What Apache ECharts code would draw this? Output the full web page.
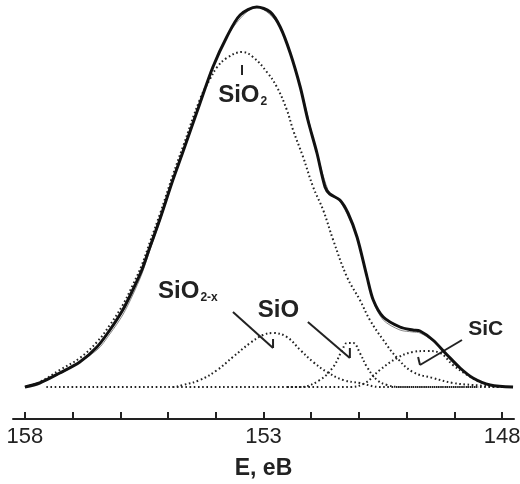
<!DOCTYPE html>
<html>
<head>
<meta charset="utf-8">
<script src="https://cdn.jsdelivr.net/npm/echarts@6/dist/echarts.min.js"></script>
<style>html,body{margin:0;padding:0;background:#fff;}#c{width:520px;height:484px;}</style>
</head>
<body>
<div id="c" style="width:520px;height:484px;"></div>
<script>
// Binding energy (eV) and intensity (a.u.)
const totalE = [158.00,157.69,157.27,156.85,156.49,156.22,155.95,155.74,155.55,155.38,155.17,154.90,154.69,154.33,154.06,153.77,153.49,153.14,152.86,152.65,152.44,152.23,152.07,151.88,151.71,151.61,151.40,151.23,151.04,150.83,150.70,150.49,150.14,149.87,149.72,149.45,149.15,148.88,148.61,148.25,147.77];
const totalI = [0,4,14,25,40,57,77,97,117,140,168,207,235,284,320,350,372,380,375,360,334,300,267,234,200,193,187,174,150,110,87,70,60,57,56,47,32,19,9,2,0];

const fitE = [158.00,157.27,156.49,156.22,155.95,155.74,155.55,155.38,155.17,154.90,154.33,153.77,153.14,152.65,152.23,151.88,151.61,151.40,151.04,150.70,150.49,150.14,149.87,149.72,149.45,149.15,148.88,148.61,148.25,147.77];
const fitI = [0,13,37,53,72,92,113,137,166,206,284,350,380,360,300,234,193,186,150,86,67,57,55,54,46,32,19,9,2,0];

const sio2E = [158.00,157.69,157.27,156.85,156.49,156.22,155.95,155.74,155.55,155.38,155.17,154.90,154.69,154.33,154.12,153.97,153.77,153.45,153.22,152.93,152.72,152.51,152.38,152.17,151.96,151.75,151.54,151.25,150.98,150.77,150.49,150.20,149.87,149.45,149.03,148.61,148.04];
const sio2I = [0,5,17,29,45,62,82,102,122,145,173,212,240,288,308,320,329,335,330,315,300,277,257,230,200,177,147,110,87,67,47,29,15,9,4,2,0];

const sio2xE = [157.55,154.90,154.69,154.33,153.97,153.64,153.28,153.01,152.80,152.51,152.23,151.96,151.67,151.33,150.98,150.56,147.80];
const sio2xI = [0,0,2,7,17,30,44,52,54,50,37,25,15,7,4,0,0];

const sioE = [154.90,152.23,151.82,151.54,151.35,151.25,151.12,150.98,150.83,150.62,150.41,150.14,148.50];
const sioI = [0,0,7,20,37,44,44,34,20,7,2,0,0];

const sicE = [152.50,151.19,150.87,150.56,150.20,149.87,149.57,149.30,149.03,148.73,148.46,148.04,147.80];
const sicI = [0,0,4,17,29,35,36,34,22,12,5,0,0];

const tickValues = [148,149,150,151,152,153,154,155,156,157,158];
const labelValues = [148,153,158];

const pairs = (xs, ys) => xs.map((x, i) => [x, ys[i]]);

const chart = echarts.init(document.getElementById('c'), null, {renderer: 'canvas', width: 520, height: 484});
const FONT = '"Liberation Sans", Arial, Helvetica, sans-serif';
const dotted = {color: '#222', width: 2, type: [1.6, 2.6]};

chart.setOption({
  animation: false,
  backgroundColor: '#fff',
  grid: {left: 13, right: 6, top: 2, bottom: 65, containLabel: false, outerBoundsMode: 'none'},
  xAxis: {
    type: 'value', inverse: true, min: 147.75, max: 158.25,
    name: 'E, eB', nameLocation: 'middle', nameGap: 38,
    nameTextStyle: {fontFamily: FONT, fontSize: 23, fontWeight: 'bold', color: '#222'},
    axisLine: {show: true, onZero: false, lineStyle: {color: '#222', width: 2}},
    axisTick: {show: true, inside: true, length: 7, customValues: tickValues, lineStyle: {color: '#222', width: 2}},
    axisLabel: {show: true, customValues: labelValues, margin: 7, fontFamily: FONT, fontSize: 22, color: '#222'},
    splitLine: {show: false}
  },
  yAxis: {type: 'value', min: -32, max: 385, show: false, splitLine: {show: false}},
  series: [
    {type: 'line', data: pairs(sio2xE, sio2xI), smooth: 0.4, symbol: 'none', lineStyle: dotted, clip: false},
    {type: 'line', data: pairs(sioE, sioI), smooth: 0.4, symbol: 'none', lineStyle: dotted, clip: false},
    {type: 'line', data: pairs(sicE, sicI), smooth: 0.4, symbol: 'none', lineStyle: dotted, clip: false},
    {type: 'line', data: pairs(sio2E, sio2I), smooth: 0.4, symbol: 'none', lineStyle: dotted, clip: false},
    {type: 'line', data: pairs(fitE, fitI), smooth: 0.3, symbol: 'none', lineStyle: {color: '#888', width: 1}, clip: false},
    {type: 'line', data: pairs(totalE, totalI), smooth: 0.3, symbol: 'none', lineStyle: {color: '#111', width: 3}, clip: false}
  ]
});

// Annotations anchored in data coordinates
const P = (e, i) => chart.convertToPixel({xAxisIndex: 0, yAxisIndex: 0}, [e, i]);
const rich = {
  a: {fontFamily: FONT, fontSize: 24, fontWeight: 'bold', fill: '#222'},
  s: {fontFamily: FONT, fontSize: 12, fontWeight: 'bold', fill: '#222', padding: [14, 0, 0, 1]},
  c: {fontFamily: FONT, fontSize: 21, fontWeight: 'bold', fill: '#222'}
};
const label = (e, i, text) => {
  const p = P(e, i);
  return {type: 'text', x: p[0], y: p[1], style: {text: text, rich: rich, align: 'left', verticalAlign: 'middle'}};
};
const seg = (a, b) => {
  const p = P(a[0], a[1]), q = P(b[0], b[1]);
  return {type: 'line', shape: {x1: p[0], y1: p[1], x2: q[0], y2: q[1]}, style: {stroke: '#222', lineWidth: 2}};
};
chart.setOption({
  graphic: [
    label(153.95, 292, '{a|SiO}{s|2}'),
    label(155.21, 96, '{a|SiO}{s|2-x}'),
    label(153.12, 77, '{a|SiO}'),
    label(148.71, 58, '{c|SiC}'),
    seg([153.45, 322], [153.45, 312]),
    seg([153.64, 75], [152.80, 39]),
    seg([152.80, 39], [152.80, 48]),
    seg([152.07, 65], [151.19, 29]),
    seg([151.19, 29], [151.19, 39]),
    seg([148.84, 47], [149.72, 22]),
    seg([149.72, 22], [149.76, 30])
  ]
});
</script>
</body>
</html>
